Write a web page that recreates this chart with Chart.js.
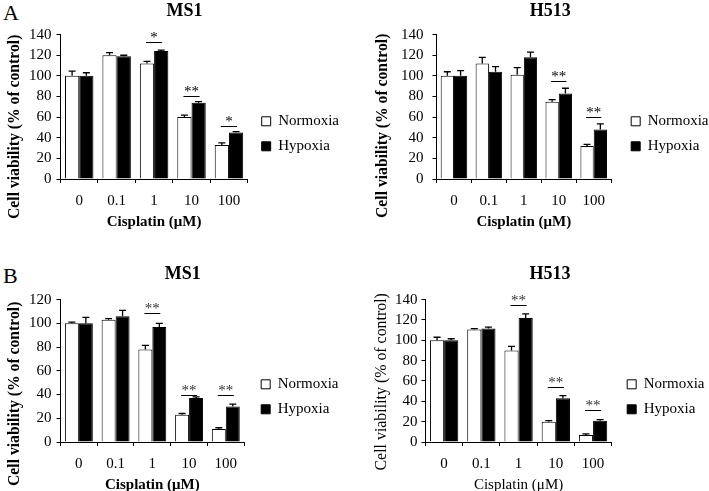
<!DOCTYPE html>
<html>
<head>
<meta charset="utf-8">
<script src="https://cdn.jsdelivr.net/npm/chart.js@4.4.1/dist/chart.umd.min.js"></script>
<style>
  html, body { margin: 0; padding: 0; background: #fff; overflow: hidden; }
  body { width: 709px; height: 491px; position: relative; }
  canvas { position: absolute; }
  .lbl { position: absolute; font-family: "Liberation Serif", serif; font-size: 22px; color: #000; line-height: 1; }
</style>
</head>
<body>
<div class="lbl" style="left:3px; top:2px;">A</div>
<div class="lbl" style="left:3px; top:265px;">B</div>
<canvas id="cA1" width="345" height="231" style="left:0px; top:0px;"></canvas>
<canvas id="cA2" width="337" height="231" style="left:372px; top:0px;"></canvas>
<canvas id="cB1" width="342" height="231" style="left:0px; top:263px;"></canvas>
<canvas id="cB2" width="343" height="231" style="left:366px; top:263px;"></canvas>
<script>
// ---------- data ----------
const categories = ['0', '0.1', '1', '10', '100'];
const seriesNames = ['Normoxia', 'Hypoxia'];
const xTitleText = 'Cisplatin (μM)';
const yTitleText = 'Cell viability (% of control)';

// Panel A, MS1
const aMs1Norm    = [100, 120, 112, 60, 33];
const aMs1NormErr = [4.5, 2.5, 2, 2, 2];
const aMs1Hyp     = [100, 119, 124, 74, 45];
const aMs1HypErr  = [3, 1, 1, 1, 1];
const aMs1Marks   = ['', '', '*', '**', '*'];
const aMs1MarkAt  = [null, null, 133, 80, 51];

// Panel A, H513
const aH513Norm    = [100, 112, 101, 75, 32];
const aH513NormErr = [4, 6, 7, 2, 1.5];
const aH513Hyp     = [100, 104, 118, 83, 48];
const aH513HypErr  = [5, 5, 5, 5, 5.5];
const aH513Marks   = ['', '', '', '**', '**'];
const aH513MarkAt  = [null, null, null, 95, 60];

// Panel B, MS1
const bMs1Norm    = [100, 103, 78, 23, 11];
const bMs1NormErr = [1, 1, 3.5, 1, 1];
const bMs1Hyp     = [100, 106, 97, 37, 30];
const bMs1HypErr  = [5, 5, 3, 1, 2];
const bMs1Marks   = ['', '', '**', '**', '**'];
const bMs1MarkAt  = [null, null, 108.5, 40, 40];

// Panel B, H513
const bH513Norm    = [100, 110.5, 90, 20, 7];
const bH513NormErr = [3, 1, 4, 1, 1];
const bH513Hyp     = [100, 111.5, 122, 43, 21];
const bH513HypErr  = [1.5, 1.5, 4, 2.5, 1];
const bH513Marks   = ['', '', '**', '**', '**'];
const bH513MarkAt  = [null, null, 134.5, 54, 31.5];

// y-axis ranges
const yMaxA1 = 140, yMaxA2 = 140, yMaxB1 = 120, yMaxB2 = 140;
const yStep = 20;

const serif = '"Liberation Serif", "Times New Roman", serif';

// ---------- plugins ----------
const errSigPlugin = {
  id: 'errSig',
  afterDatasetsDraw(chart, args, opts) {
    const ctx = chart.ctx;
    const ys = chart.scales.y;
    ctx.save();
    ctx.strokeStyle = '#000';
    ctx.lineWidth = 1.3;
    opts.errors.forEach((errs, di) => {
      const meta = chart.getDatasetMeta(di);
      const vals = chart.data.datasets[di].data;
      meta.data.forEach((bar, i) => {
        const top = ys.getPixelForValue(vals[i] + errs[i]);
        ctx.beginPath();
        ctx.moveTo(bar.x, bar.y);
        ctx.lineTo(bar.x, top);
        ctx.moveTo(bar.x - 3.5, top);
        ctx.lineTo(bar.x + 3.5, top);
        ctx.stroke();
      });
    });
    const m0 = chart.getDatasetMeta(0), m1 = chart.getDatasetMeta(1);
    ctx.lineWidth = 1;
    opts.marks.forEach((mk, i) => {
      if (!mk) return;
      const ly = Math.round(ys.getPixelForValue(opts.markAt[i])) + 0.5;
      const x0 = m0.data[i].x - 1, x1 = m1.data[i].x + 1;
      ctx.beginPath();
      ctx.moveTo(x0, ly);
      ctx.lineTo(x1, ly);
      ctx.stroke();
      ctx.fillStyle = opts.markColor || '#000';
      ctx.font = '15px ' + serif;
      ctx.textAlign = 'center';
      ctx.textBaseline = 'alphabetic';
      ctx.fillText(mk, (x0 + x1) / 2, ly - 1);
    });
    ctx.restore();
  }
};

const legendShift = {
  id: 'legendShift',
  afterLayout(chart, args, opts) {
    const l = chart.legend;
    if (!l || !opts) return;
    const dy = opts.dy || 0, dx = opts.dx || 0;
    l.top += dy; l.bottom += dy;
    l.left += dx; l.right += dx;
  }
};

// vertical axis title, placed a little below the plot centre as in the original figure
const yTitlePlugin = {
  id: 'yTitle',
  afterDraw(chart, args, o) {
    const ctx = chart.ctx;
    const ca = chart.chartArea;
    ctx.save();
    ctx.translate(o.x, (ca.top + ca.bottom) / 2 + o.dy);
    ctx.rotate(-Math.PI / 2);
    ctx.font = (o.bold ? 'bold ' : '') + o.size + 'px ' + serif;
    ctx.fillStyle = '#000';
    ctx.textAlign = 'center';
    ctx.textBaseline = 'middle';
    ctx.fillText(o.text, 0, 0);
    ctx.restore();
  }
};

// ---------- chart factory ----------
function makeChart(id, cfg) {
  const axisTitleFont = { family: serif, size: 15, weight: cfg.bold ? 'bold' : 'normal' };
  new Chart(document.getElementById(id), {
    type: 'bar',
    data: {
      labels: categories,
      datasets: [
        { label: seriesNames[0], data: cfg.norm, backgroundColor: '#ffffff', borderColor: '#000000', borderWidth: 1,
          categoryPercentage: 0.76, barPercentage: 1.0 },
        { label: seriesNames[1], data: cfg.hyp, backgroundColor: '#000000', borderColor: '#000000', borderWidth: 1,
          categoryPercentage: 0.76, barPercentage: 1.0 }
      ]
    },
    options: {
      responsive: false,
      animation: false,
      devicePixelRatio: 1,
      layout: { padding: { left: cfg.padL + 18, right: cfg.padR, top: 0, bottom: 0 } },
      scales: {
        x: {
          grid: { display: true, drawOnChartArea: false, drawTicks: true, tickLength: 4, color: '#000', offset: true },
          border: { display: true, color: '#000', width: 1 },
          ticks: { color: '#000', font: { family: serif, size: 15 }, padding: 9, maxRotation: 0, autoSkip: false },
          title: { display: true, text: xTitleText, color: '#000', font: axisTitleFont, padding: { top: -6, bottom: 0 } }
        },
        y: {
          min: 0, max: cfg.yMax,
          grid: { display: true, drawOnChartArea: false, drawTicks: true, tickLength: 4, color: '#000' },
          border: { display: true, color: '#000', width: 1 },
          ticks: { stepSize: yStep, color: '#000', font: { family: serif, size: 15 }, padding: cfg.tickPad, autoSkip: false },
          title: { display: false }
        }
      },
      plugins: {
        title: { display: true, text: cfg.title, color: '#000', font: { family: serif, size: 18, weight: 'bold' },
                 padding: { top: 1, bottom: cfg.titlePadBottom } },
        legend: {
          display: true, position: 'right', align: 'center', fullSize: false, maxWidth: 110,
          labels: { color: '#000', font: { family: serif, size: 15 }, boxWidth: 9, boxHeight: 9, padding: 10 }
        },
        tooltip: { enabled: false },
        errSig: { errors: [cfg.normErr, cfg.hypErr], marks: cfg.marks, markAt: cfg.markAt, markColor: cfg.markColor },
        legendShift: { dy: cfg.legDy, dx: cfg.legDx },
        yTitle: { text: yTitleText, x: cfg.padL + 9, dy: cfg.yTitleDy, size: cfg.yTitleSize, bold: cfg.bold }
      }
    },
    plugins: [errSigPlugin, legendShift, yTitlePlugin]
  });
}

makeChart('cA1', { title: 'MS1', norm: aMs1Norm, normErr: aMs1NormErr, hyp: aMs1Hyp, hypErr: aMs1HypErr,
  marks: aMs1Marks, markAt: aMs1MarkAt, yMax: yMaxA1, bold: true, titlePadBottom: 12, markColor: '#000',
  padL: 6, padR: 0, tickPad: 5, legDx: 4, legDy: 27, yTitleDy: 20, yTitleSize: 15.7 });
makeChart('cA2', { title: 'H513', norm: aH513Norm, normErr: aH513NormErr, hyp: aH513Hyp, hypErr: aH513HypErr,
  marks: aH513Marks, markAt: aH513MarkAt, yMax: yMaxA2, bold: true, titlePadBottom: 12, markColor: '#000',
  padL: 2, padR: 0.5, tickPad: 9, legDx: 10, legDy: 27, yTitleDy: 19, yTitleSize: 15.7 });
makeChart('cB1', { title: 'MS1', norm: bMs1Norm, normErr: bMs1NormErr, hyp: bMs1Hyp, hypErr: bMs1HypErr,
  marks: bMs1Marks, markAt: bMs1MarkAt, yMax: yMaxB1, bold: true, titlePadBottom: 14, markColor: '#333',
  padL: 6, padR: 0.5, tickPad: 5, legDx: 7, legDy: 26, yTitleDy: 23, yTitleSize: 15.7 });
makeChart('cB2', { title: 'H513', norm: bH513Norm, normErr: bH513NormErr, hyp: bH513Hyp, hypErr: bH513HypErr,
  marks: bH513Marks, markAt: bH513MarkAt, yMax: yMaxB2, bold: false, titlePadBottom: 14, markColor: '#333',
  padL: 7, padR: 0, tickPad: 4, legDx: 5.5, legDy: 26, yTitleDy: 11, yTitleSize: 15.9 });
</script>
</body>
</html>
